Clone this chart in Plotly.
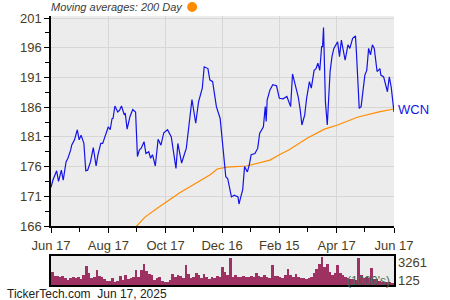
import plotly.graph_objects as go
import numpy as np
import pandas as pd

price_dates = [
    "2024-06-17","2024-06-19","2024-06-23","2024-06-25","2024-06-28","2024-06-30","2024-07-03","2024-07-05",
    "2024-07-08","2024-07-09","2024-07-12","2024-07-15","2024-07-17","2024-07-19","2024-07-22","2024-07-24",
    "2024-07-26","2024-07-29","2024-08-01","2024-08-04","2024-08-06","2024-08-09","2024-08-11","2024-08-15",
    "2024-08-17","2024-08-19","2024-08-21","2024-08-22","2024-08-24","2024-08-27","2024-08-29","2024-08-31",
    "2024-09-03","2024-09-04","2024-09-06","2024-09-09","2024-09-12","2024-09-15","2024-09-17","2024-09-19",
    "2024-09-21","2024-09-24","2024-09-26","2024-09-29","2024-10-01","2024-10-03","2024-10-06","2024-10-09",
    "2024-10-12","2024-10-15","2024-10-19","2024-10-23","2024-10-25","2024-10-28","2024-10-30","2024-11-03",
    "2024-11-08","2024-11-11","2024-11-14","2024-11-18","2024-11-21","2024-11-25","2024-11-27","2024-12-01",
    "2024-12-03","2024-12-06","2024-12-10","2024-12-14","2024-12-17","2024-12-20","2024-12-22","2024-12-26",
    "2024-12-29","2025-01-02","2025-01-03","2025-01-07","2025-01-09","2025-01-12","2025-01-14","2025-01-16",
    "2025-01-20","2025-01-23","2025-01-25","2025-01-29","2025-01-31","2025-02-01","2025-02-02","2025-02-05",
    "2025-02-08","2025-02-12","2025-02-15","2025-02-19","2025-02-23","2025-02-27","2025-03-01","2025-03-03",
    "2025-03-07","2025-03-09","2025-03-11","2025-03-14","2025-03-16","2025-03-19","2025-03-21","2025-03-24",
    "2025-03-26","2025-03-28","2025-03-30","2025-04-01","2025-04-02","2025-04-03","2025-04-05","2025-04-07",
    "2025-04-10","2025-04-12","2025-04-14","2025-04-18","2025-04-20","2025-04-22","2025-04-24","2025-04-26",
    "2025-04-29","2025-05-01","2025-05-04","2025-05-07","2025-05-08","2025-05-11","2025-05-13","2025-05-17",
    "2025-05-19","2025-05-21","2025-05-23","2025-05-25","2025-05-27","2025-05-30","2025-06-02","2025-06-03",
    "2025-06-06","2025-06-09","2025-06-10","2025-06-12","2025-06-14","2025-06-17",
]
price_values = [
    172.5,173.7,175.3,173.5,175.4,173.7,176.8,177.4,
    178.8,179.6,180.5,182.2,180.5,181.3,179.9,175.3,
    175.4,176.8,179.2,176.1,178.0,179.9,179.9,181.9,
    182.7,182.2,184.1,184.1,186.2,185.2,185.5,186.2,
    184.7,185.0,182.3,184.4,185.6,185.2,177.7,178.8,
    179.1,180.2,178.2,178.5,177.4,178.0,176.1,180.6,
    179.6,181.7,182.2,181.0,178.8,175.7,179.9,176.6,
    179.1,183.8,187.3,183.3,186.9,189.2,192.8,192.5,
    190.6,190.3,186.1,184.1,179.3,174.3,174.0,170.9,
    171.2,170.9,169.7,172.1,176.0,175.1,176.3,178.0,
    178.2,179.1,181.6,182.7,186.1,183.6,187.2,188.9,
    189.8,189.6,187.5,187.4,187.8,186.1,191.6,190.3,
    187.8,185.8,183.0,184.7,187.5,190.3,189.2,192.2,
    192.5,193.4,192.2,196.2,196.2,199.4,186.9,183.0,
    192.0,194.5,195.9,197.0,194.5,197.3,195.3,193.9,
    196.5,195.9,197.6,198.0,195.3,185.8,186.1,191.4,
    192.2,195.9,194.8,196.5,195.9,192.0,192.5,191.4,
    191.1,188.9,188.6,191.1,189.4,185.2,
]

ma_dates = [
    "2024-09-15","2024-09-25","2024-10-08","2024-10-10","2024-11-01","2024-11-15","2024-12-03",
    "2024-12-11","2024-12-21","2025-01-11","2025-01-25","2025-02-05","2025-02-15","2025-02-25",
    "2025-03-17","2025-04-04","2025-04-18","2025-05-09","2025-06-01","2025-06-17",
]
ma_values = [
    165.8,167.5,169.0,169.2,171.6,172.9,174.6,
    175.6,175.9,176.1,176.6,177.1,178.0,178.8,
    180.8,182.3,183.0,184.3,185.2,185.7,
]

volume_k = [
    1500,1010,1010,940,1010,750,560,825,940,750,860,640,1125,2140,1310,750,860,1690,1010,940,640,490,490,
    750,375,490,1010,560,1125,640,750,940,1760,860,1690,2360,1610,1240,
    1125,560,750,860,490,375,375,
    560,1240,940,1125,1010,750,2250,1240,750,940,
    1310,1125,750,1240,940,640,940,750,1010,940,2060,1500,
    1125,3110,940,1125,940,940,
    1010,860,860,1010,940,1310,1010,940,1125,860,750,
    2250,1010,1010,940,750,1125,1875,1125,940,1240,
    940,750,750,640,750,940,1390,1875,2440,3190,2060,2440,1500,
    1125,1310,2250,1310,1125,940,750,640,640,560,3110,
    1125,750,860,750,1990,640,640,490,375,375,340,340,260,
]

x_tick_vals = ["2024-06-17","2024-08-17","2024-10-17","2024-12-16","2025-02-15","2025-04-17","2025-06-17"]
x_tick_text = ["Jun 17","Aug 17","Oct 17","Dec 16","Feb 15","Apr 17","Jun 17"]
x_minor_vals = ["2024-07-17","2024-09-16","2024-11-16","2025-01-15","2025-03-17","2025-05-17"]
y_tick_vals = [166,171,176,181,186,191,196,201]
vol_labels = ["3261", "125"]

start = pd.Timestamp("2024-06-17")
end = pd.Timestamp("2025-06-17")
step = (end - start) / len(volume_k)
vol_dates = [start + step * (i + 0.5) for i in range(len(volume_k))]
bar_w_ms = step.total_seconds() * 1000

FONT = "Liberation Sans, Arial, sans-serif"
tick_font = dict(family=FONT, size=13, color="#4a3c1e")

fig = go.Figure()
fig.add_trace(go.Scatter(x=ma_dates, y=ma_values, mode="lines",
                         line=dict(color="#ff8c00", width=1.2), xaxis="x", yaxis="y"))
fig.add_trace(go.Scatter(x=price_dates, y=price_values, mode="lines",
                         line=dict(color="#1414e6", width=1.2), xaxis="x", yaxis="y"))
fig.add_trace(go.Bar(x=vol_dates, y=volume_k, width=bar_w_ms,
                     marker=dict(color="#9c3162", line=dict(width=0)),
                     xaxis="x2", yaxis="y2"))

fig.update_layout(
    template="none",
    width=450, height=300,
    margin=dict(l=51, r=56, t=16, b=15),
    paper_bgcolor="white", plot_bgcolor="#ececec",
    showlegend=False, bargap=0,
    font=dict(family=FONT),
    xaxis=dict(domain=[0, 1], range=[start, end], anchor="y",
               tickvals=x_tick_vals, ticktext=x_tick_text, tickfont=tick_font,
               showgrid=True, gridcolor="#d6d6d6", gridwidth=1,
               showline=True, linecolor="black", linewidth=1.5,
               ticks="outside", ticklen=5, tickcolor="black", ticklabelstandoff=2,
               minor=dict(tickvals=x_minor_vals, ticks="outside", ticklen=4, tickcolor="black", showgrid=False),
               zeroline=False, automargin=False),
    yaxis=dict(domain=[0.2193, 1], range=[166, 201.35], tickvals=y_tick_vals, tickfont=tick_font,
               showgrid=True, gridcolor="#d6d6d6", gridwidth=1,
               showline=True, linecolor="black", linewidth=1.5,
               ticks="outside", ticklen=5, tickcolor="black",
               minor=dict(dtick=2.5, tick0=166, ticks="outside", ticklen=4, tickcolor="black", showgrid=False),
               zeroline=False, automargin=False),
    xaxis2=dict(domain=[0, 1], range=[start, end], anchor="y2", showticklabels=False,
                showgrid=False, showline=True, mirror=True, linecolor="black", linewidth=1.5,
                ticks="", zeroline=False, automargin=False),
    yaxis2=dict(domain=[0, 0.1078], range=[0, 3300], side="right", anchor="x2",
                showticklabels=False, showgrid=False, showline=True, mirror=True,
                linecolor="black", linewidth=1.5, ticks="", zeroline=False, automargin=False),
)

fig.add_annotation(x=0, y=1.0335, xref="paper", yref="paper", xshift=-2, xanchor="left", yanchor="middle",
                   text="<i>Moving averages: 200 Day</i>", showarrow=False,
                   font=dict(family=FONT, size=11, color="#3a3a3a"))
fig.add_shape(type="circle", xref="paper", yref="paper", x0=0.397, x1=0.426, y0=1.0149, y1=1.052,
              fillcolor="#ff8c00", line=dict(width=0))
fig.add_annotation(x=price_dates[-1], y=price_values[-1], xref="x", yref="y", xanchor="left", yanchor="middle",
                   xshift=2, yshift=2, text="WCN", showarrow=False,
                   font=dict(family=FONT, size=13, color="#1414e6"))
fig.add_annotation(x=1, y=0.0818, xref="paper", yref="paper", xanchor="left", yanchor="middle", xshift=2,
                   text=vol_labels[0], showarrow=False, font=tick_font)
fig.add_annotation(x=1, y=0.0149, xref="paper", yref="paper", xanchor="left", yanchor="middle", xshift=2,
                   text=vol_labels[1], showarrow=False, font=tick_font)
fig.add_annotation(x=0.993, y=0.0149, xref="paper", yref="paper", xanchor="right", yanchor="middle",
                   text="(1000's)", showarrow=False,
                   font=dict(family=FONT, size=12, color="#3d6e5a"))
fig.add_annotation(x=-0.134, y=0.0, xref="paper", yref="paper", xanchor="left", yanchor="middle", yshift=-9,
                   text="TickerTech.com  Jun 17, 2025", showarrow=False,
                   font=dict(family=FONT, size=12, color="#222222"))

fig.write_html("out.html")
